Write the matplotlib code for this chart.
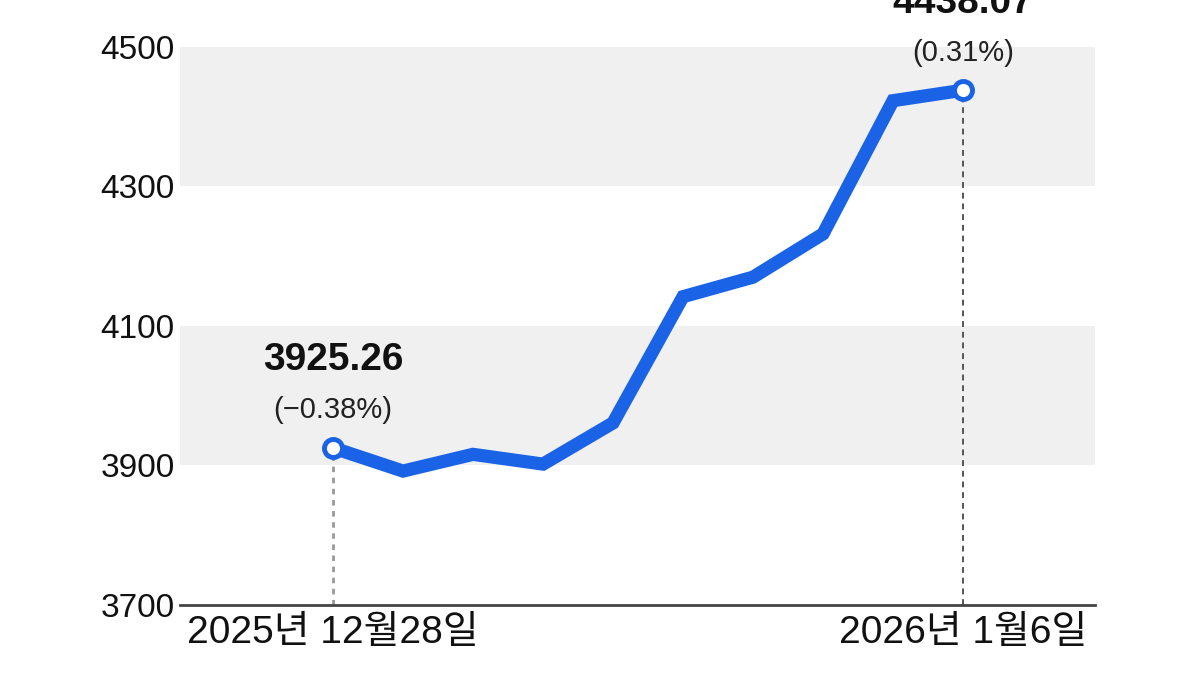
import matplotlib
matplotlib.use('Agg')
import matplotlib.pyplot as plt

# 지수 추이
values = [3925.26, 3892, 3916, 3902, 3961, 4142, 4170, 4232, 4423, 4438.07]
x_labels = ['2025년 12월28일', '2026년 1월6일']
first_value_text = '3925.26'
first_change_text = '(\u22120.38%)'
last_value_text = '4438.07'
last_change_text = '(0.31%)'
y_ticks = [3700, 3900, 4100, 4300, 4500]
bands = [(3900, 4100), (4300, 4500)]

plt.rcParams['font.family'] = ['Liberation Sans', 'Noto Sans CJK KR', 'DejaVu Sans']

fig = plt.figure(figsize=(12, 6.75), dpi=100)
ax = fig.add_axes([0.15, 0.1037, 0.7625, 0.8267])

xs = list(range(len(values)))
blue = '#1a63e6'

# 회색 배경 띠
for lo, hi in bands:
    ax.axhspan(lo, hi, color='#f0f0f0', zorder=0, lw=0)

# 시작점, 끝점 점선
ax.plot([xs[0], xs[0]], [3700, values[0]], ls=(0, (2, 2)), color='#999999',
        lw=2, zorder=1)
ax.plot([xs[-1], xs[-1]], [3700, values[-1]], ls=(0, (3, 2.5)), color='#555555',
        lw=1.4, zorder=1)

ax.plot(xs, values, color=blue, lw=9.5, solid_joinstyle='miter', zorder=2)
ax.plot([xs[0], xs[-1]], [values[0], values[-1]], ls='none', marker='o', ms=13,
        mfc='white', mec=blue, mew=3.5, zorder=3)

# 값 표시
for i, big, small in ((0, first_value_text, first_change_text),
                      (len(values) - 1, last_value_text, last_change_text)):
    ax.annotate(big, (xs[i], values[i]), xytext=(0, 63), textcoords='offset points',
                ha='center', va='center', fontsize=28, fontweight='bold', color='#111111')
    ax.annotate(small, (xs[i], values[i]), xytext=(0, 27), textcoords='offset points',
                ha='center', va='center', fontsize=21, color='#222222')

ax.set_xlim((180 - 333) / 70, (1095 - 333) / 70)
ax.set_ylim(3700, 4500)
ax.set_yticks(y_ticks)
ax.set_yticklabels([str(t) for t in y_ticks], fontsize=24, color='#111111')
ax.set_xticks([xs[0], xs[-1]])
ax.set_xticklabels(x_labels, fontsize=28, color='#111111')
ax.tick_params(axis='both', length=0)
ax.tick_params(axis='y', pad=4)
ax.tick_params(axis='x', pad=7)

for side in ('left', 'right', 'top'):
    ax.spines[side].set_visible(False)
ax.spines['bottom'].set_color('#444444')
ax.spines['bottom'].set_linewidth(2)
ax.set_facecolor('none')

fig.savefig('out.png', dpi=100)
